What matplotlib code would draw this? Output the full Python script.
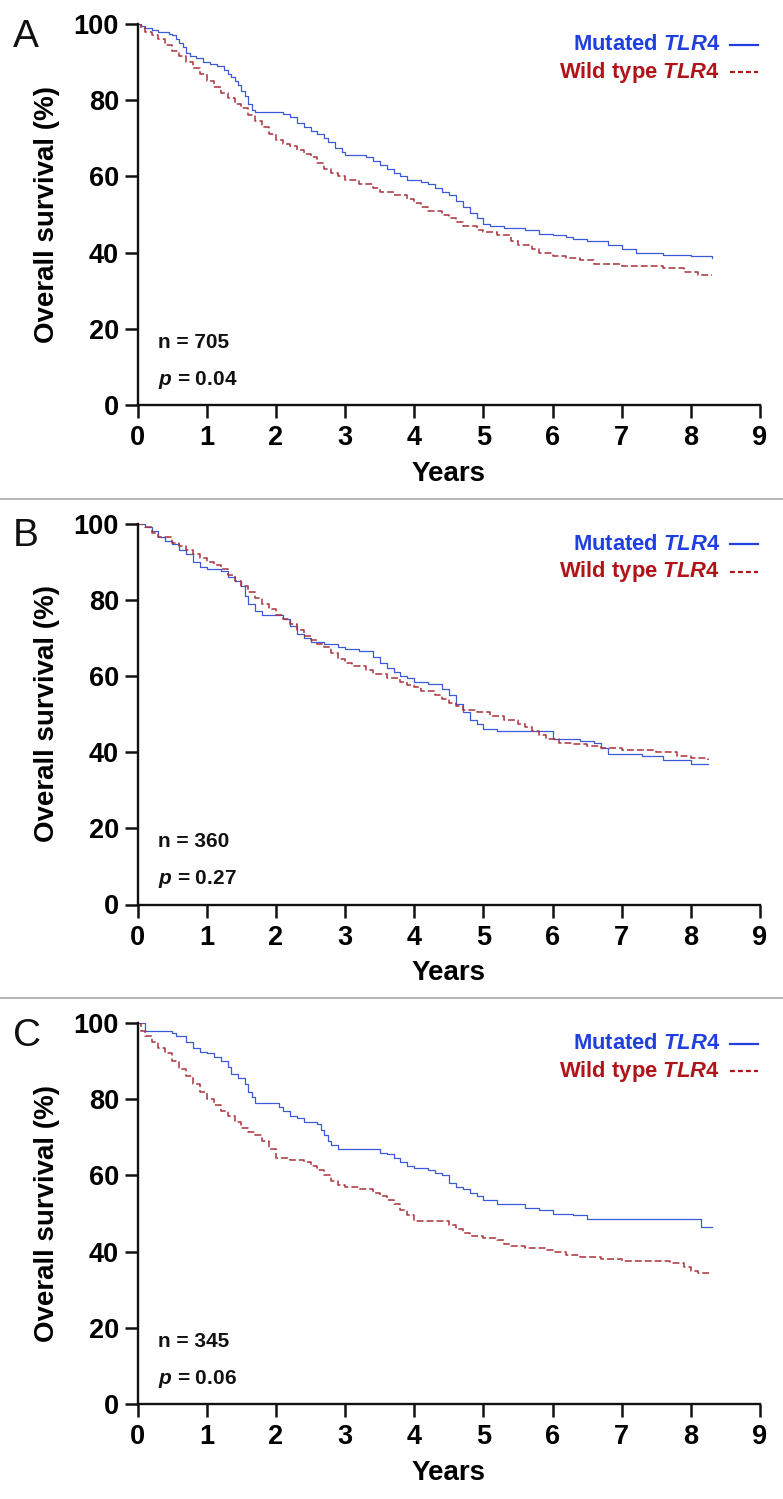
import matplotlib
matplotlib.use("Agg")
import matplotlib.pyplot as plt
from matplotlib.lines import Line2D

plt.rcParams["font.family"] = ["Liberation Sans", "DejaVu Sans"]
plt.rcParams["font.weight"] = "bold"
plt.rcParams["mathtext.fontset"] = "custom"
plt.rcParams["mathtext.it"] = "Liberation Sans:italic:bold"
plt.rcParams["mathtext.rm"] = "Liberation Sans:bold"
plt.rcParams["mathtext.bf"] = "Liberation Sans:bold"

# panel A: all patients
a_mut_t = [0, 0.05, 0.1, 0.2, 0.3, 0.45, 0.5, 0.55, 0.6, 0.65, 0.7, 0.75, 0.85, 0.95, 1.05, 1.15,
           1.25, 1.3, 1.35, 1.4, 1.45, 1.5, 1.55, 1.6, 1.65, 1.7, 2.1, 2.2, 2.3, 2.4, 2.5, 2.6,
           2.7, 2.75, 2.85, 2.95, 3.0, 3.3, 3.4, 3.5, 3.6, 3.7, 3.8, 3.9, 4.1, 4.2, 4.3, 4.4,
           4.5, 4.6, 4.7, 4.8, 4.9, 5.0, 5.1, 5.3, 5.6, 5.8, 6.0, 6.2, 6.3, 6.5, 6.8, 7.0,
           7.2, 7.6, 8.0, 8.3]
a_mut_s = [100, 99.5, 99, 98.5, 98, 97.5, 97, 96, 95, 94, 92.5, 91.5, 91, 90, 89.5, 89,
           88, 87, 86, 85, 84, 82.5, 81, 79, 77.5, 77, 76.5, 75.5, 74, 73, 72, 71,
           70, 69, 67.5, 66.5, 65.5, 65, 64, 63, 62, 61, 60, 59, 58.5, 58, 57, 56,
           55, 53.5, 52, 50.5, 49, 47.5, 47, 46.5, 46, 45, 44.5, 44, 43.5, 43, 42, 41,
           40, 39.5, 39, 38.5]
a_wt_t = [0, 0.05, 0.1, 0.2, 0.3, 0.4, 0.5, 0.6, 0.7, 0.8, 0.9, 1.0, 1.1, 1.2, 1.3, 1.4, 1.5,
          1.6, 1.7, 1.8, 1.9, 2.0, 2.1, 2.2, 2.3, 2.4, 2.5, 2.6, 2.7, 2.8, 2.9, 3.0, 3.2,
          3.4, 3.5, 3.7, 3.9, 4.0, 4.1, 4.2, 4.4, 4.5, 4.6, 4.7, 4.9, 5.0, 5.2, 5.4, 5.5,
          5.7, 5.8, 6.0, 6.2, 6.4, 6.6, 7.0, 7.4, 7.6, 7.9, 8.1, 8.3]
a_wt_s = [100, 99, 98, 97, 96, 94.5, 93, 91.5, 90, 88.5, 87, 85, 83.5, 82, 80.5, 79, 78,
          76, 74.5, 73, 71, 69.5, 68.5, 68, 67, 66, 65, 63.5, 62, 61, 60, 59, 58,
          57, 56, 55, 54, 53, 52, 51, 50, 49, 48, 47, 46, 45.5, 44.5, 43, 42,
          41, 40, 39, 38.5, 38, 37, 36.5, 36.5, 36, 35, 34, 34]

# panel B
b_mut_t = [0, 0.1, 0.2, 0.3, 0.4, 0.5, 0.6, 0.7, 0.8, 0.9, 1.0, 1.2, 1.3, 1.4, 1.5, 1.55, 1.6,
           1.7, 1.8, 2.0, 2.1, 2.2, 2.3, 2.4, 2.5, 2.7, 2.9, 3.0, 3.2, 3.4, 3.5, 3.6, 3.7,
           3.8, 3.9, 4.0, 4.2, 4.4, 4.5, 4.6, 4.7, 4.8, 4.9, 5.0, 5.2, 5.5, 5.9, 6.0, 6.4,
           6.6, 6.7, 6.8, 7.0, 7.3, 7.6, 8.0, 8.25]
b_mut_s = [100, 99, 98, 96.5, 95.5, 94.5, 93, 92, 90, 88.5, 88, 87.5, 86, 85, 83.5, 81, 79,
           77, 76, 76, 75, 73, 71, 70, 69, 68.5, 67.5, 67, 66.5, 65, 63.5, 62, 61,
           60, 59.5, 58.5, 58, 56.5, 55, 52.5, 50.5, 48.5, 47.5, 46, 45.5, 45.5, 45.5, 43.5, 43,
           42.5, 41, 39.5, 39.5, 39, 38, 37, 37]
b_wt_t = [0, 0.1, 0.2, 0.3, 0.5, 0.6, 0.7, 0.8, 0.9, 1.0, 1.1, 1.2, 1.3, 1.4, 1.5, 1.6, 1.7,
          1.8, 1.9, 2.0, 2.1, 2.2, 2.3, 2.4, 2.5, 2.6, 2.7, 2.8, 2.9, 3.0, 3.1, 3.3, 3.4,
          3.6, 3.8, 3.9, 4.0, 4.1, 4.3, 4.4, 4.5, 4.6, 4.7, 4.9, 5.1, 5.3, 5.5, 5.6, 5.7,
          5.8, 5.9, 6.1, 6.3, 6.5, 6.7, 7.0, 7.5, 7.8, 8.0, 8.25]
b_wt_s = [100, 99, 97.5, 96.5, 95, 94, 93, 92, 91, 90, 89, 88, 86.5, 85, 83.5, 82, 80.5,
          79, 77.5, 76, 75, 73.5, 72, 70.5, 69.5, 68.5, 67.5, 66, 64.5, 63.5, 62.5, 61.5, 60.5,
          59.5, 58.5, 57.5, 57, 56, 55, 54, 53, 52, 51, 50.5, 49.5, 48.5, 47.5, 46.5, 45.5,
          44.5, 43.5, 42.5, 42, 41.5, 41, 40.5, 40, 39, 38.5, 38]

# panel C
c_mut_t = [0, 0.1, 0.5, 0.55, 0.7, 0.8, 0.9, 1.0, 1.1, 1.2, 1.3, 1.35, 1.45, 1.55, 1.6, 1.65,
           1.7, 2.0, 2.05, 2.1, 2.2, 2.3, 2.4, 2.6, 2.65, 2.7, 2.75, 2.8, 2.9, 3.4, 3.5, 3.6,
           3.7, 3.8, 3.9, 4.0, 4.2, 4.3, 4.4, 4.5, 4.6, 4.7, 4.8, 4.9, 5.0, 5.2, 5.5, 5.6,
           5.8, 6.0, 6.3, 6.5, 8.1, 8.15, 8.3]
c_mut_s = [100, 98, 97.5, 96.5, 95, 93.5, 92.5, 92, 91, 90, 88.5, 86.5, 85.5, 84, 82, 80.5,
           79, 79, 78, 77, 75.5, 75, 74, 73.5, 72, 70.5, 69, 68, 67, 67, 66, 65.5,
           64.5, 63.5, 62.5, 62, 61.5, 60.5, 60, 58, 57, 56.5, 55.5, 54.5, 53.5, 52.5, 52.5, 51.5,
           51, 50, 49.5, 48.5, 48.5, 46.5, 46.5]
c_wt_t = [0, 0.05, 0.1, 0.2, 0.3, 0.4, 0.5, 0.6, 0.7, 0.8, 0.9, 1.0, 1.1, 1.2, 1.3, 1.4, 1.5,
          1.6, 1.7, 1.8, 1.9, 2.0, 2.2, 2.4, 2.5, 2.6, 2.7, 2.8, 2.9, 3.0, 3.2, 3.4, 3.5,
          3.6, 3.7, 3.8, 3.9, 4.0, 4.4, 4.5, 4.6, 4.7, 4.8, 5.0, 5.2, 5.3, 5.4, 5.6, 5.9,
          6.0, 6.2, 6.4, 6.7, 7.0, 7.5, 7.7, 7.9, 8.0, 8.1, 8.3]
c_wt_s = [100, 98, 96.5, 95, 93.5, 92, 90, 88, 86, 84, 82, 80, 78.5, 77, 75.5, 74, 72.5,
          71.5, 70.5, 69, 67, 64.5, 64, 63.5, 62.5, 61.5, 60, 58.5, 57.5, 57, 56.5, 55.5, 54.5,
          53.5, 52.5, 51, 49.5, 48, 48, 47, 46, 45, 44, 43.5, 43, 42, 41.5, 41, 40.5,
          40, 39, 38.5, 38, 37.5, 37.5, 37, 36, 35, 34.5, 34.5]

panels = ["A", "B", "C"]
n_labels = ["n = 705", "n = 360", "n = 345"]
p_labels = ["$p$ = 0.04", "$p$ = 0.27", "$p$ = 0.06"]
curves = [(a_mut_t, a_mut_s, a_wt_t, a_wt_s),
          (b_mut_t, b_mut_s, b_wt_t, b_wt_s),
          (c_mut_t, c_mut_s, c_wt_t, c_wt_s)]

blue = "#3a5ad8"
red = "#a8323a"
blue_txt = "#1f3fe0"
red_txt = "#b01419"

W, H = 783, 1499
fig = plt.figure(figsize=(W / 100, H / 100), dpi=100)

for i in range(3):
    off = i * 499.5
    top, bottom = 24 + off, 405 + off
    left, right = 137.7, 760
    ax = fig.add_axes([left / W, 1 - bottom / H, (right - left) / W, (bottom - top) / H])
    mt, ms, wt, ws = curves[i]
    ax.step(mt, ms, where="post", color=blue, lw=0.9)
    ax.step(wt, ws, where="post", color=red, lw=1.1, linestyle=(0, (4.5, 2)))
    ax.set_xlim(0, 9)
    ax.set_ylim(0, 100)
    ax.set_xticks(range(10))
    ax.set_yticks(range(0, 101, 20))
    ax.spines["top"].set_visible(False)
    ax.spines["right"].set_visible(False)
    for s in ("left", "bottom"):
        ax.spines[s].set_linewidth(1.7)
        ax.spines[s].set_color("#111111")
    ax.tick_params(length=9.5, width=1.8, labelsize=19.5, pad=4, color="#111111")
    ax.tick_params(axis="x", pad=5)
    ax.set_xlabel("Years", fontsize=20, fontweight="bold", labelpad=7)
    ax.set_ylabel("Overall survival (%)", fontsize=20, fontweight="bold", labelpad=10)

    # legend: text then line on the right
    ax.text(0.936, 0.945, "Mutated $\\it{TLR4}$", transform=ax.transAxes, ha="right",
            va="center", fontsize=15.8, color=blue_txt, fontweight="bold")
    ax.text(0.936, 0.874, "Wild type $\\it{TLR4}$", transform=ax.transAxes, ha="right",
            va="center", fontsize=15.8, color=red_txt, fontweight="bold")
    ax.plot([0.952, 0.997], [0.945, 0.945], transform=ax.transAxes, color=blue_txt,
            lw=1.6, clip_on=False)
    ax.plot([0.952, 0.997], [0.874, 0.874], transform=ax.transAxes, color=red_txt,
            lw=1.6, linestyle=(0, (2.2, 1.4)), clip_on=False)

    ax.text(0.033, 0.165, n_labels[i], transform=ax.transAxes, ha="left", va="center",
            fontsize=15, fontweight="bold", color="#111111")
    ax.text(0.033, 0.066, p_labels[i], transform=ax.transAxes, ha="left", va="center",
            fontsize=15, fontweight="bold", color="#111111")

    fig.text(13 / W, 1 - (47 + off) / H, panels[i], fontsize=28, fontweight="normal",
             ha="left", va="baseline", color="#111111")

for y in (499, 998):
    fig.add_artist(Line2D([0, 1], [1 - y / H, 1 - y / H], color="#b0b0b0", lw=1.3))

fig.savefig("out.png", dpi=100)
